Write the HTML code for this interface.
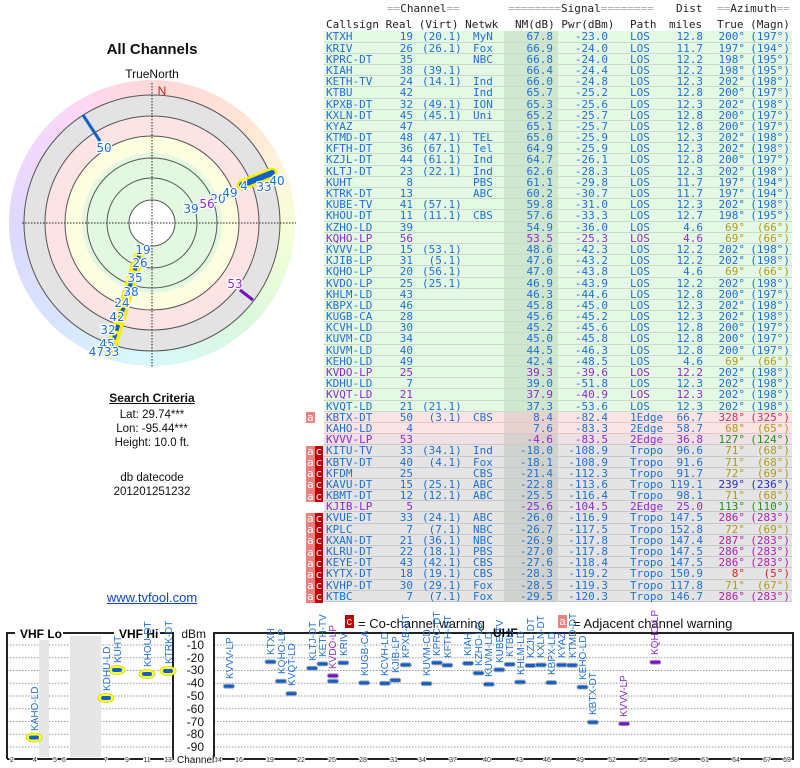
<!DOCTYPE html>
<html><head><meta charset="utf-8">
<style>
*{margin:0;padding:0;box-sizing:border-box}
body{width:800px;height:768px;background:#fff;position:relative;overflow:hidden;font-family:"Liberation Sans",sans-serif}
.mono{font-family:"DejaVu Sans Mono","Liberation Mono",monospace;font-size:11px}
.hd{position:absolute;white-space:pre;color:#222;line-height:12px}
.hd i{font-style:normal;color:#aaa}
#tbl{position:absolute;left:324px;top:31.4px;width:468px;color:#1e6fd6}
.r{display:flex;white-space:pre;border-bottom:1px solid #c9dcc9;height:11.2px;line-height:11px}
.r span{display:block;overflow:visible}
.g{background:#e4f9e4}
.p{background:#fde4e4;border-bottom-color:#e0c8c8}
.q{background:#eee0e4;border-bottom-color:#d0c8c8}
.y{background:#e4e4e4;border-bottom-color:#c8c8c8}
.c1{width:66px;padding-left:2px}
.c2{width:24px;text-align:right;padding-right:1px}
.c3{width:56px;padding-left:8px}
.c4{width:34px;padding-left:3px}
.c5{width:54px;text-align:right;padding-right:5px;background:rgba(0,40,0,0.09)}
.c6{width:54px;text-align:right;padding-right:4px}
.c7{width:48px;padding-left:18px}
.c8{width:46px;text-align:right;padding-right:3px}
.c9{width:42px;text-align:right;padding-right:3px}
.c10{width:44px;text-align:right;padding-right:2px}
.pu .c1,.pu .c2,.pu .c5,.pu .c6,.pu .c7,.pu .c8{color:#8e2ad0}
.ol{color:#b09a20}.rd{color:#d0305a}.gr{color:#209020}.db{color:#2a2ad0}.mg{color:#b020b0}.re{color:#e02020}
.bd{position:absolute;left:306px;width:17px;font-family:"DejaVu Sans Mono",monospace;font-size:11px;color:#fff;display:flex;flex-direction:column}
.bd div{display:flex;height:11.2px;line-height:11.2px}
.bd b{font-weight:normal;display:block;width:8.5px;text-align:center;background:#f08080}
.bd b+b{background:#c00000}
.lt{position:absolute;text-align:center;color:#111;font-size:12px}
#ring{position:absolute;left:9px;top:80px;width:286px;height:286px;border-radius:50%;
background:conic-gradient(#ffd8d8,#ffe6d6 45deg,#fff6dc 70deg,#f4ffd8 95deg,#dcf8dc 135deg,#d8f8f4 170deg,#d8f8fc 185deg,#d8e4ff 225deg,#dcd8ff 265deg,#f0d8ff 300deg,#ffd8f4 330deg,#ffd8d8)}
</style></head><body>

<div class="lt" style="left:52px;top:41px;width:200px;font-size:15px;font-weight:bold">All Channels</div>
<div class="lt" style="left:52px;top:67px;width:200px">TrueNorth</div>
<div id="ring"></div>
<svg style="position:absolute;left:0;top:0" width="800" height="768">
 <circle cx="152" cy="223" r="128" fill="#e3e3e3" stroke="#555" stroke-width="1"/>
 <circle cx="152" cy="223" r="107" fill="#fde4e4" stroke="#555" stroke-width="1"/>
 <circle cx="152" cy="223" r="87" fill="#fdfde0" stroke="#555" stroke-width="1"/>
 <circle cx="152" cy="223" r="70" fill="#e2f8e0" stroke="none"/>
 <circle cx="152" cy="223" r="65" fill="none" stroke="#555" stroke-width="1"/>
 <circle cx="152" cy="223" r="45" fill="none" stroke="#555" stroke-width="1"/>
 <circle cx="152" cy="223" r="23" fill="#fff" stroke="#555" stroke-width="1"/>
 <line x1="22" y1="223" x2="296" y2="223" stroke="#222" stroke-dasharray="1.5,1.5"/>
 <line x1="152" y1="83" x2="152" y2="368" stroke="#222" stroke-dasharray="1.5,1.5"/>
 <text x="162" y="95" font-size="12" fill="#d02020" text-anchor="middle">N</text>
 <line x1="139" y1="256" x2="110" y2="352" stroke="#f6f000" stroke-width="11" stroke-linecap="round"/>
 <line x1="139" y1="256" x2="110" y2="352" stroke="#1060c8" stroke-width="4" stroke-dasharray="6,3"/>
 <line x1="242" y1="185" x2="272" y2="173" stroke="#f6f000" stroke-width="11" stroke-linecap="round"/>
 <line x1="242" y1="185" x2="272" y2="173" stroke="#1060c8" stroke-width="6" stroke-linecap="round"/>
 <line x1="83" y1="115" x2="100" y2="141" stroke="#1060c8" stroke-width="3"/>
 <line x1="240" y1="290" x2="253" y2="300" stroke="#7a10b8" stroke-width="3"/>
 <g font-size="12" font-family="DejaVu Sans,sans-serif" fill="#1e6fd6" stroke="#fff" stroke-width="2.5" paint-order="stroke" text-anchor="middle">
  <text x="104" y="152">50</text>
  <text x="143" y="254">19</text><text x="140" y="267">26</text><text x="135" y="282">35</text>
  <text x="131" y="296">38</text><text x="122" y="307">24</text><text x="117" y="321">42</text>
  <text x="108" y="334">32</text><text x="107" y="348">45</text><text x="104" y="356">4733</text>
  <text x="191" y="213">39</text><text x="218" y="203">20</text><text x="230" y="197">49</text>
  <text x="244" y="190">4</text><text x="264" y="191">33</text><text x="277" y="185">40</text>
  <text x="207" y="208" fill="#8e2ad0">56</text><text x="235" y="288" fill="#8e2ad0">53</text>
 </g>

 <g stroke="#999" stroke-dasharray="1.5,1.5" stroke-width="1">
  <path d="M7 645H173M7 657.75H173M7 670.5H173M7 683.25H173M7 696H173M7 708.75H173M7 721.5H173M7 734.25H173M7 747H173"/>
  <path d="M214 645H793M214 657.75H793M214 670.5H793M214 683.25H793M214 696H793M214 708.75H793M214 721.5H793M214 734.25H793M214 747H793"/>
 </g>
 <rect x="39" y="636" width="10" height="121" fill="#e6e6e6"/>
 <rect x="70" y="636" width="31" height="121" fill="#e6e6e6"/>
 <path d="M7 759V633H173V759H7" fill="none" stroke="#222" stroke-width="2"/>
 <path d="M214 759V633H793V759H214" fill="none" stroke="#222" stroke-width="2"/>
 <rect x="15" y="626" width="48" height="14" fill="#fff"/>
 <rect x="114" y="626" width="46" height="14" fill="#fff"/>
 <text x="20" y="638" font-size="12" font-weight="bold">VHF Lo</text>
 <text x="119" y="638" font-size="12" font-weight="bold">VHF Hi</text>
 <text x="493" y="637" font-size="12" font-weight="bold">UHF</text>
 <g font-size="12" text-anchor="end" fill="#111">
  <text x="206" y="638">dBm</text><text x="204" y="649">-10</text><text x="204" y="662">-20</text>
  <text x="204" y="674">-30</text><text x="204" y="687">-40</text><text x="204" y="700">-50</text>
  <text x="204" y="713">-60</text><text x="204" y="726">-70</text><text x="204" y="738">-80</text>
  <text x="204" y="751">-90</text>
 </g>
 <text x="177" y="763" font-size="10" fill="#111">Channel</text>
 <g font-size="7" fill="#333" text-anchor="middle" stroke="#fff" stroke-width="2" paint-order="stroke">
  <text x="12" y="762">2</text><text x="35" y="762">4</text><text x="55" y="762">5</text><text x="64" y="762">6</text>
  <text x="106" y="762">7</text><text x="127" y="762">9</text><text x="147" y="762">11</text><text x="168" y="762">13</text>
  <text x="218" y="762">14</text><text x="239" y="762">16</text><text x="270" y="762">19</text><text x="301" y="762">22</text>
  <text x="332" y="762">25</text><text x="363" y="762">28</text><text x="394" y="762">31</text><text x="422" y="762">34</text>
  <text x="453" y="762">37</text><text x="487" y="762">40</text><text x="519" y="762">43</text><text x="547" y="762">46</text>
  <text x="580" y="762">49</text><text x="612" y="762">52</text><text x="643" y="762">55</text><text x="674" y="762">58</text>
  <text x="705" y="762">61</text><text x="736" y="762">64</text><text x="767" y="762">67</text><text x="787" y="762">69</text>
 </g>
 <rect x="345" y="615" width="9" height="13" fill="#c00000"/><text x="346.5" y="625" font-size="11" fill="#fff">c</text>
 <text x="358" y="628" font-size="13" fill="#111">= Co-channel warning</text>
 <rect x="558" y="615" width="9" height="13" fill="#f08080"/><text x="559.5" y="625" font-size="11" fill="#fff">a</text>
 <text x="573" y="628" font-size="13" fill="#111">= Adjacent channel warning</text>

 <g fill="#ffff40" stroke="#dede00">
  <ellipse cx="34" cy="737.5" rx="8" ry="4.5"/><ellipse cx="106" cy="698" rx="8" ry="4.5"/>
  <ellipse cx="117" cy="670" rx="8" ry="4.5"/><ellipse cx="147" cy="674" rx="8" ry="4.5"/>
  <ellipse cx="168" cy="671" rx="8" ry="4.5"/>
 </g>
 <g fill="#1060c8">
  <rect x="29" y="735.5" width="10" height="4" rx="2"/><rect x="101" y="696" width="10" height="4" rx="2"/>
  <rect x="112" y="668" width="10" height="4" rx="2"/><rect x="142" y="672" width="10" height="4" rx="2"/>
  <rect x="163" y="669" width="10" height="4" rx="2"/>
 </g>
 <g font-size="10" fill="#1e6fd6">
  <text transform="translate(38,731) rotate(-90)">KAHO-LD</text>
  <text transform="translate(110,691) rotate(-90)">KDHU-LD</text>
  <text transform="translate(121,663) rotate(-90)">KUHT</text>
  <text transform="translate(151,667) rotate(-90)">KHOU-DT</text>
  <text transform="translate(172,664) rotate(-90)">KTRK-DT</text>
 </g>
 <g fill="#1060c8" stroke="#aaa" stroke-width="1">
  <rect x="223.4" y="684.2" width="11" height="4" rx="2"/>
  <rect x="265" y="659.9" width="11" height="4" rx="2"/>
  <rect x="275.4" y="679.2" width="11" height="4" rx="2"/>
  <rect x="285.8" y="691.6" width="11" height="4" rx="2"/>
  <rect x="306.6" y="666.3" width="11" height="4" rx="2"/>
  <rect x="317" y="661.9" width="11" height="4" rx="2"/>
  <rect x="327.4" y="679.2" width="11" height="4" rx="2"/>
  <rect x="337.8" y="660.9" width="11" height="4" rx="2"/>
  <rect x="358.6" y="680.9" width="11" height="4" rx="2"/>
  <rect x="379.4" y="681.4" width="11" height="4" rx="2"/>
  <rect x="389.8" y="678.3" width="11" height="4" rx="2"/>
  <rect x="400.2" y="662.9" width="11" height="4" rx="2"/>
  <rect x="421" y="681.6" width="11" height="4" rx="2"/>
  <rect x="431.4" y="660.9" width="11" height="4" rx="2"/>
  <rect x="441.8" y="663.3" width="11" height="4" rx="2"/>
  <rect x="462.6" y="661.4" width="11" height="4" rx="2"/>
  <rect x="473" y="671.1" width="11" height="4" rx="2"/>
  <rect x="483.4" y="682.3" width="11" height="4" rx="2"/>
  <rect x="493.8" y="667.8" width="11" height="4" rx="2"/>
  <rect x="504.2" y="662.4" width="11" height="4" rx="2"/>
  <rect x="514.6" y="680.1" width="11" height="4" rx="2"/>
  <rect x="525" y="663.5" width="11" height="4" rx="2"/>
  <rect x="535.4" y="663" width="11" height="4" rx="2"/>
  <rect x="545.8" y="680.6" width="11" height="4" rx="2"/>
  <rect x="556.2" y="663" width="11" height="4" rx="2"/>
  <rect x="566.6" y="663.3" width="11" height="4" rx="2"/>
  <rect x="577" y="685.1" width="11" height="4" rx="2"/>
  <rect x="587.4" y="720.3" width="11" height="4" rx="2"/>
 </g>
 <g fill="#7a10c8" stroke="#aaa" stroke-width="1">
  <rect x="327.4" y="673.8" width="11" height="4" rx="2"/>
  <rect x="618.6" y="721.7" width="11" height="4" rx="2"/>
  <rect x="649.8" y="660.2" width="11" height="4" rx="2"/>
 </g>
 <g font-size="10" fill="#1e6fd6">
  <text transform="translate(233,679) rotate(-90)">KVVV-LP</text>
  <text transform="translate(274,655) rotate(-90)">KTXH</text>
  <text transform="translate(285,674) rotate(-90)">KQHO-LP</text>
  <text transform="translate(295,686) rotate(-90)">KVQT-LD</text>
  <text transform="translate(316,661) rotate(-90)">KLTJ-DT</text>
  <text transform="translate(326,657) rotate(-90)">KETH-TV</text>
  <text transform="translate(347,656) rotate(-90)">KRIV</text>
  <text transform="translate(368,676) rotate(-90)">KUGB-CA</text>
  <text transform="translate(388,676) rotate(-90)">KCVH-LD</text>
  <text transform="translate(399,673) rotate(-90)">KJIB-LP</text>
  <text transform="translate(409,658) rotate(-90)">KPXB-DT</text>
  <text transform="translate(430,676) rotate(-90)">KUVM-CD</text>
  <text transform="translate(440,656) rotate(-90)">KPRC-DT</text>
  <text transform="translate(451,658) rotate(-90)">KFTH-DT</text>
  <text transform="translate(471,656) rotate(-90)">KIAH</text>
  <text transform="translate(482,666) rotate(-90)">KZHO-LD</text>
  <text transform="translate(492,677) rotate(-90)">KUVM-LD</text>
  <text transform="translate(503,663) rotate(-90)">KUBE-TV</text>
  <text transform="translate(513,657) rotate(-90)">KTBU</text>
  <text transform="translate(524,675) rotate(-90)">KHLM-LD</text>
  <text transform="translate(534,658) rotate(-90)">KZJL-DT</text>
  <text transform="translate(544,658) rotate(-90)">KXLN-DT</text>
  <text transform="translate(555,675) rotate(-90)">KBPX-LD</text>
  <text transform="translate(565,658) rotate(-90)">KYAZ</text>
  <text transform="translate(576,658) rotate(-90)">KTMD-DT</text>
  <text transform="translate(586,680) rotate(-90)">KEHO-LD</text>
  <text transform="translate(596,715) rotate(-90)">KBTX-DT</text>
  <text transform="translate(336,669) rotate(-90)" fill="#8e2ad0">KVDO-LP</text>
  <text transform="translate(627,717) rotate(-90)" fill="#8e2ad0">KVVV-LP</text>
  <text transform="translate(658,655) rotate(-90)" fill="#8e2ad0">KQHO-LP</text>
 </g>
</svg>

<div class="lt" style="left:52px;top:391px;width:200px;font-weight:bold;text-decoration:underline">Search Criteria</div>
<div class="lt" style="left:52px;top:409px;width:200px;font-size:11.5px">Lat: 29.74***</div>
<div class="lt" style="left:52px;top:423px;width:200px;font-size:11.5px">Lon: -95.44***</div>
<div class="lt" style="left:52px;top:437px;width:200px;font-size:11.5px">Height: 10.0 ft.</div>
<div class="lt" style="left:52px;top:472px;width:200px;font-size:11.5px">db datecode</div>
<div class="lt" style="left:52px;top:486px;width:200px;font-size:11.5px">201201251232</div>
<div class="lt" style="left:52px;top:590px;width:200px;font-size:13px;color:#1040d0;text-decoration:underline">www.tvfool.com</div>

<div class="hd mono" style="left:387px;top:3px"><i>==</i>Channel<i>==</i></div>
<div class="hd mono" style="left:508px;top:3px"><i>========</i>Signal<i>========</i></div>
<div class="hd mono" style="left:676px;top:3px">Dist</div>
<div class="hd mono" style="left:717px;top:3px"><i>==</i>Azimuth<i>==</i></div>
<div class="hd mono" style="left:326px;top:19px">Callsign Real (Virt) Netwk</div>
<div class="hd mono" style="left:515px;top:19px">NM(dB) Pwr(dBm)</div>
<div class="hd mono" style="left:630px;top:19px">Path</div>
<div class="hd mono" style="left:669px;top:19px">miles</div>
<div class="hd mono" style="left:717px;top:19px">True (Magn)</div>

<div class="bd" style="top:412.2px"><div><b>a</b></div></div>
<div class="bd" style="top:445.8px"><div><b>a</b><b>c</b></div><div><b>a</b><b>c</b></div><div><b>a</b><b>c</b></div><div><b>a</b><b>c</b></div><div><b>a</b><b>c</b></div></div>
<div class="bd" style="top:513px"><div><b>a</b><b>c</b></div><div><b>a</b><b>c</b></div><div><b>a</b><b>c</b></div><div><b>a</b><b>c</b></div><div><b>a</b><b>c</b></div><div><b>a</b><b>c</b></div><div><b>a</b><b>c</b></div><div><b>a</b><b>c</b></div></div>

<div id="tbl" class="mono">
<div class="r g"><span class="c1">KTXH</span><span class="c2">19</span><span class="c3">(20.1)</span><span class="c4">MyN</span><span class="c5">67.8</span><span class="c6">-23.0</span><span class="c7">LOS</span><span class="c8">12.8</span><span class="c9">200°</span><span class="c10">(197°)</span></div>
<div class="r g"><span class="c1">KRIV</span><span class="c2">26</span><span class="c3">(26.1)</span><span class="c4">Fox</span><span class="c5">66.9</span><span class="c6">-24.0</span><span class="c7">LOS</span><span class="c8">11.7</span><span class="c9">197°</span><span class="c10">(194°)</span></div>
<div class="r g"><span class="c1">KPRC-DT</span><span class="c2">35</span><span class="c3"></span><span class="c4">NBC</span><span class="c5">66.8</span><span class="c6">-24.0</span><span class="c7">LOS</span><span class="c8">12.2</span><span class="c9">198°</span><span class="c10">(195°)</span></div>
<div class="r g"><span class="c1">KIAH</span><span class="c2">38</span><span class="c3">(39.1)</span><span class="c4"></span><span class="c5">66.4</span><span class="c6">-24.4</span><span class="c7">LOS</span><span class="c8">12.2</span><span class="c9">198°</span><span class="c10">(195°)</span></div>
<div class="r g"><span class="c1">KETH-TV</span><span class="c2">24</span><span class="c3">(14.1)</span><span class="c4">Ind</span><span class="c5">66.0</span><span class="c6">-24.8</span><span class="c7">LOS</span><span class="c8">12.3</span><span class="c9">202°</span><span class="c10">(198°)</span></div>
<div class="r g"><span class="c1">KTBU</span><span class="c2">42</span><span class="c3"></span><span class="c4">Ind</span><span class="c5">65.7</span><span class="c6">-25.2</span><span class="c7">LOS</span><span class="c8">12.8</span><span class="c9">200°</span><span class="c10">(197°)</span></div>
<div class="r g"><span class="c1">KPXB-DT</span><span class="c2">32</span><span class="c3">(49.1)</span><span class="c4">ION</span><span class="c5">65.3</span><span class="c6">-25.6</span><span class="c7">LOS</span><span class="c8">12.3</span><span class="c9">202°</span><span class="c10">(198°)</span></div>
<div class="r g"><span class="c1">KXLN-DT</span><span class="c2">45</span><span class="c3">(45.1)</span><span class="c4">Uni</span><span class="c5">65.2</span><span class="c6">-25.7</span><span class="c7">LOS</span><span class="c8">12.8</span><span class="c9">200°</span><span class="c10">(197°)</span></div>
<div class="r g"><span class="c1">KYAZ</span><span class="c2">47</span><span class="c3"></span><span class="c4"></span><span class="c5">65.1</span><span class="c6">-25.7</span><span class="c7">LOS</span><span class="c8">12.8</span><span class="c9">200°</span><span class="c10">(197°)</span></div>
<div class="r g"><span class="c1">KTMD-DT</span><span class="c2">48</span><span class="c3">(47.1)</span><span class="c4">TEL</span><span class="c5">65.0</span><span class="c6">-25.9</span><span class="c7">LOS</span><span class="c8">12.3</span><span class="c9">202°</span><span class="c10">(198°)</span></div>
<div class="r g"><span class="c1">KFTH-DT</span><span class="c2">36</span><span class="c3">(67.1)</span><span class="c4">Tel</span><span class="c5">64.9</span><span class="c6">-25.9</span><span class="c7">LOS</span><span class="c8">12.3</span><span class="c9">202°</span><span class="c10">(198°)</span></div>
<div class="r g"><span class="c1">KZJL-DT</span><span class="c2">44</span><span class="c3">(61.1)</span><span class="c4">Ind</span><span class="c5">64.7</span><span class="c6">-26.1</span><span class="c7">LOS</span><span class="c8">12.8</span><span class="c9">200°</span><span class="c10">(197°)</span></div>
<div class="r g"><span class="c1">KLTJ-DT</span><span class="c2">23</span><span class="c3">(22.1)</span><span class="c4">Ind</span><span class="c5">62.6</span><span class="c6">-28.3</span><span class="c7">LOS</span><span class="c8">12.3</span><span class="c9">202°</span><span class="c10">(198°)</span></div>
<div class="r g"><span class="c1">KUHT</span><span class="c2">8</span><span class="c3"></span><span class="c4">PBS</span><span class="c5">61.1</span><span class="c6">-29.8</span><span class="c7">LOS</span><span class="c8">11.7</span><span class="c9">197°</span><span class="c10">(194°)</span></div>
<div class="r g"><span class="c1">KTRK-DT</span><span class="c2">13</span><span class="c3"></span><span class="c4">ABC</span><span class="c5">60.2</span><span class="c6">-30.7</span><span class="c7">LOS</span><span class="c8">11.7</span><span class="c9">197°</span><span class="c10">(194°)</span></div>
<div class="r g"><span class="c1">KUBE-TV</span><span class="c2">41</span><span class="c3">(57.1)</span><span class="c4"></span><span class="c5">59.8</span><span class="c6">-31.0</span><span class="c7">LOS</span><span class="c8">12.3</span><span class="c9">202°</span><span class="c10">(198°)</span></div>
<div class="r g"><span class="c1">KHOU-DT</span><span class="c2">11</span><span class="c3">(11.1)</span><span class="c4">CBS</span><span class="c5">57.6</span><span class="c6">-33.3</span><span class="c7">LOS</span><span class="c8">12.7</span><span class="c9">198°</span><span class="c10">(195°)</span></div>
<div class="r g"><span class="c1">KZHO-LD</span><span class="c2">39</span><span class="c3"></span><span class="c4"></span><span class="c5">54.9</span><span class="c6">-36.0</span><span class="c7">LOS</span><span class="c8">4.6</span><span class="c9 ol">69°</span><span class="c10 ol">(66°)</span></div>
<div class="r g pu"><span class="c1">KQHO-LP</span><span class="c2">56</span><span class="c3"></span><span class="c4"></span><span class="c5">53.5</span><span class="c6">-25.3</span><span class="c7">LOS</span><span class="c8">4.6</span><span class="c9 ol">69°</span><span class="c10 ol">(66°)</span></div>
<div class="r g"><span class="c1">KVVV-LP</span><span class="c2">15</span><span class="c3">(53.1)</span><span class="c4"></span><span class="c5">48.6</span><span class="c6">-42.3</span><span class="c7">LOS</span><span class="c8">12.2</span><span class="c9">202°</span><span class="c10">(198°)</span></div>
<div class="r g"><span class="c1">KJIB-LP</span><span class="c2">31</span><span class="c3"> (5.1)</span><span class="c4"></span><span class="c5">47.6</span><span class="c6">-43.2</span><span class="c7">LOS</span><span class="c8">12.2</span><span class="c9">202°</span><span class="c10">(198°)</span></div>
<div class="r g"><span class="c1">KQHO-LP</span><span class="c2">20</span><span class="c3">(56.1)</span><span class="c4"></span><span class="c5">47.0</span><span class="c6">-43.8</span><span class="c7">LOS</span><span class="c8">4.6</span><span class="c9 ol">69°</span><span class="c10 ol">(66°)</span></div>
<div class="r g"><span class="c1">KVDO-LP</span><span class="c2">25</span><span class="c3">(25.1)</span><span class="c4"></span><span class="c5">46.9</span><span class="c6">-43.9</span><span class="c7">LOS</span><span class="c8">12.2</span><span class="c9">202°</span><span class="c10">(198°)</span></div>
<div class="r g"><span class="c1">KHLM-LD</span><span class="c2">43</span><span class="c3"></span><span class="c4"></span><span class="c5">46.3</span><span class="c6">-44.6</span><span class="c7">LOS</span><span class="c8">12.8</span><span class="c9">200°</span><span class="c10">(197°)</span></div>
<div class="r g"><span class="c1">KBPX-LD</span><span class="c2">46</span><span class="c3"></span><span class="c4"></span><span class="c5">45.8</span><span class="c6">-45.0</span><span class="c7">LOS</span><span class="c8">12.3</span><span class="c9">202°</span><span class="c10">(198°)</span></div>
<div class="r g"><span class="c1">KUGB-CA</span><span class="c2">28</span><span class="c3"></span><span class="c4"></span><span class="c5">45.6</span><span class="c6">-45.2</span><span class="c7">LOS</span><span class="c8">12.3</span><span class="c9">202°</span><span class="c10">(198°)</span></div>
<div class="r g"><span class="c1">KCVH-LD</span><span class="c2">30</span><span class="c3"></span><span class="c4"></span><span class="c5">45.2</span><span class="c6">-45.6</span><span class="c7">LOS</span><span class="c8">12.8</span><span class="c9">200°</span><span class="c10">(197°)</span></div>
<div class="r g"><span class="c1">KUVM-CD</span><span class="c2">34</span><span class="c3"></span><span class="c4"></span><span class="c5">45.0</span><span class="c6">-45.8</span><span class="c7">LOS</span><span class="c8">12.8</span><span class="c9">200°</span><span class="c10">(197°)</span></div>
<div class="r g"><span class="c1">KUVM-LD</span><span class="c2">40</span><span class="c3"></span><span class="c4"></span><span class="c5">44.5</span><span class="c6">-46.3</span><span class="c7">LOS</span><span class="c8">12.8</span><span class="c9">200°</span><span class="c10">(197°)</span></div>
<div class="r g"><span class="c1">KEHO-LD</span><span class="c2">49</span><span class="c3"></span><span class="c4"></span><span class="c5">42.4</span><span class="c6">-48.5</span><span class="c7">LOS</span><span class="c8">4.6</span><span class="c9 ol">69°</span><span class="c10 ol">(66°)</span></div>
<div class="r g pu"><span class="c1">KVDO-LP</span><span class="c2">25</span><span class="c3"></span><span class="c4"></span><span class="c5">39.3</span><span class="c6">-39.6</span><span class="c7">LOS</span><span class="c8">12.2</span><span class="c9">202°</span><span class="c10">(198°)</span></div>
<div class="r g"><span class="c1">KDHU-LD</span><span class="c2">7</span><span class="c3"></span><span class="c4"></span><span class="c5">39.0</span><span class="c6">-51.8</span><span class="c7">LOS</span><span class="c8">12.3</span><span class="c9">202°</span><span class="c10">(198°)</span></div>
<div class="r g pu"><span class="c1">KVQT-LD</span><span class="c2">21</span><span class="c3"></span><span class="c4"></span><span class="c5">37.9</span><span class="c6">-40.9</span><span class="c7">LOS</span><span class="c8">12.3</span><span class="c9">202°</span><span class="c10">(198°)</span></div>
<div class="r g"><span class="c1">KVQT-LD</span><span class="c2">21</span><span class="c3">(21.1)</span><span class="c4"></span><span class="c5">37.3</span><span class="c6">-53.6</span><span class="c7">LOS</span><span class="c8">12.3</span><span class="c9">202°</span><span class="c10">(198°)</span></div>
<div class="r p"><span class="c1">KBTX-DT</span><span class="c2">50</span><span class="c3"> (3.1)</span><span class="c4">CBS</span><span class="c5">8.4</span><span class="c6">-82.4</span><span class="c7">1Edge</span><span class="c8">66.7</span><span class="c9 rd">328°</span><span class="c10 rd">(325°)</span></div>
<div class="r p"><span class="c1">KAHO-LD</span><span class="c2">4</span><span class="c3"></span><span class="c4"></span><span class="c5">7.6</span><span class="c6">-83.3</span><span class="c7">2Edge</span><span class="c8">58.7</span><span class="c9 ol">68°</span><span class="c10 ol">(65°)</span></div>
<div class="r q pu"><span class="c1">KVVV-LP</span><span class="c2">53</span><span class="c3"></span><span class="c4"></span><span class="c5">-4.6</span><span class="c6">-83.5</span><span class="c7">2Edge</span><span class="c8">36.8</span><span class="c9 gr">127°</span><span class="c10 gr">(124°)</span></div>
<div class="r y"><span class="c1">KITU-TV</span><span class="c2">33</span><span class="c3">(34.1)</span><span class="c4">Ind</span><span class="c5">-18.0</span><span class="c6">-108.9</span><span class="c7">Tropo</span><span class="c8">96.6</span><span class="c9 ol">71°</span><span class="c10 ol">(68°)</span></div>
<div class="r y"><span class="c1">KBTV-DT</span><span class="c2">40</span><span class="c3"> (4.1)</span><span class="c4">Fox</span><span class="c5">-18.1</span><span class="c6">-108.9</span><span class="c7">Tropo</span><span class="c8">91.6</span><span class="c9 ol">71°</span><span class="c10 ol">(68°)</span></div>
<div class="r y"><span class="c1">KFDM</span><span class="c2">25</span><span class="c3"></span><span class="c4">CBS</span><span class="c5">-21.4</span><span class="c6">-112.3</span><span class="c7">Tropo</span><span class="c8">91.7</span><span class="c9 ol">72°</span><span class="c10 ol">(69°)</span></div>
<div class="r y"><span class="c1">KAVU-DT</span><span class="c2">15</span><span class="c3">(25.1)</span><span class="c4">ABC</span><span class="c5">-22.8</span><span class="c6">-113.6</span><span class="c7">Tropo</span><span class="c8">119.1</span><span class="c9 db">239°</span><span class="c10 db">(236°)</span></div>
<div class="r y"><span class="c1">KBMT-DT</span><span class="c2">12</span><span class="c3">(12.1)</span><span class="c4">ABC</span><span class="c5">-25.5</span><span class="c6">-116.4</span><span class="c7">Tropo</span><span class="c8">98.1</span><span class="c9 ol">71°</span><span class="c10 ol">(68°)</span></div>
<div class="r y pu"><span class="c1">KJIB-LP</span><span class="c2">5</span><span class="c3"></span><span class="c4"></span><span class="c5">-25.6</span><span class="c6">-104.5</span><span class="c7">2Edge</span><span class="c8">25.0</span><span class="c9 gr">113°</span><span class="c10 gr">(110°)</span></div>
<div class="r y"><span class="c1">KVUE-DT</span><span class="c2">33</span><span class="c3">(24.1)</span><span class="c4">ABC</span><span class="c5">-26.0</span><span class="c6">-116.9</span><span class="c7">Tropo</span><span class="c8">147.5</span><span class="c9 mg">286°</span><span class="c10 mg">(283°)</span></div>
<div class="r y"><span class="c1">KPLC</span><span class="c2">7</span><span class="c3"> (7.1)</span><span class="c4">NBC</span><span class="c5">-26.7</span><span class="c6">-117.5</span><span class="c7">Tropo</span><span class="c8">152.8</span><span class="c9 ol">72°</span><span class="c10 ol">(69°)</span></div>
<div class="r y"><span class="c1">KXAN-DT</span><span class="c2">21</span><span class="c3">(36.1)</span><span class="c4">NBC</span><span class="c5">-26.9</span><span class="c6">-117.8</span><span class="c7">Tropo</span><span class="c8">147.4</span><span class="c9 mg">287°</span><span class="c10 mg">(283°)</span></div>
<div class="r y"><span class="c1">KLRU-DT</span><span class="c2">22</span><span class="c3">(18.1)</span><span class="c4">PBS</span><span class="c5">-27.0</span><span class="c6">-117.8</span><span class="c7">Tropo</span><span class="c8">147.5</span><span class="c9 mg">286°</span><span class="c10 mg">(283°)</span></div>
<div class="r y"><span class="c1">KEYE-DT</span><span class="c2">43</span><span class="c3">(42.1)</span><span class="c4">CBS</span><span class="c5">-27.6</span><span class="c6">-118.4</span><span class="c7">Tropo</span><span class="c8">147.5</span><span class="c9 mg">286°</span><span class="c10 mg">(283°)</span></div>
<div class="r y"><span class="c1">KYTX-DT</span><span class="c2">18</span><span class="c3">(19.1)</span><span class="c4">CBS</span><span class="c5">-28.3</span><span class="c6">-119.2</span><span class="c7">Tropo</span><span class="c8">150.9</span><span class="c9 re">8°</span><span class="c10 re">(5°)</span></div>
<div class="r y"><span class="c1">KVHP-DT</span><span class="c2">30</span><span class="c3">(29.1)</span><span class="c4">Fox</span><span class="c5">-28.5</span><span class="c6">-119.3</span><span class="c7">Tropo</span><span class="c8">117.8</span><span class="c9 ol">71°</span><span class="c10 ol">(67°)</span></div>
<div class="r y"><span class="c1">KTBC</span><span class="c2">7</span><span class="c3"> (7.1)</span><span class="c4">Fox</span><span class="c5">-29.5</span><span class="c6">-120.3</span><span class="c7">Tropo</span><span class="c8">146.7</span><span class="c9 mg">286°</span><span class="c10 mg">(283°)</span></div>
</div>
</body></html>
